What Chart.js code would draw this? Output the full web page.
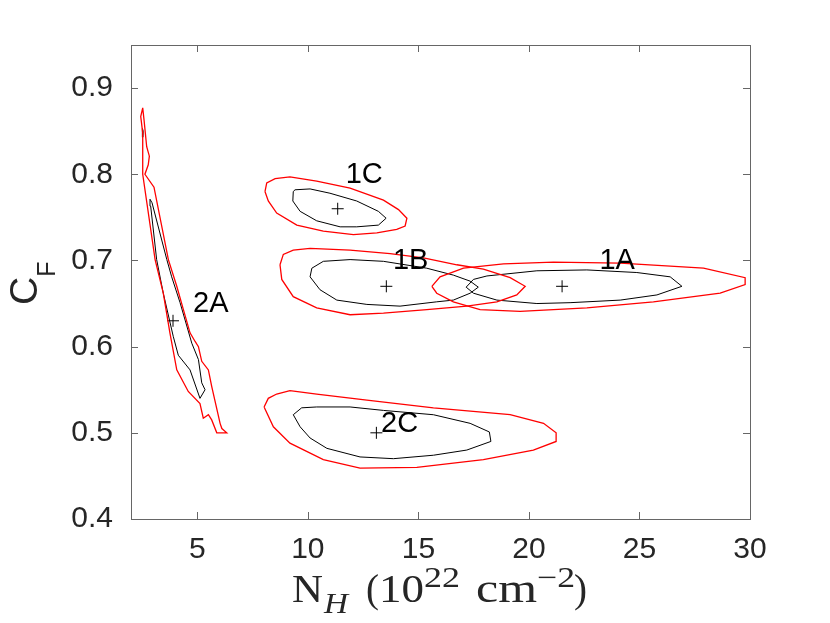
<!DOCTYPE html>
<html>
<head>
<meta charset="utf-8">
<script src="https://cdn.jsdelivr.net/npm/chart.js@4.4.1/dist/chart.umd.min.js"></script>
<style>
  html, body { margin: 0; padding: 0; background: #fff; }
  canvas { display: block; }
</style>
</head>
<body>
<canvas id="myChart" width="830" height="623"></canvas>
<script>
// axis ticks
const xTickVals = [5, 10, 15, 20, 25, 30];
const yTickVals = [0.4, 0.5, 0.6, 0.7, 0.8, 0.9];

// best fit positions (N_H, C_F)
const fitNames = ['1A', '1B', '1C', '2A', '2C'];
const fitX = [21.5, 13.55, 11.35, 3.9, 13.1];
const fitY = [0.67, 0.67, 0.76, 0.63, 0.50];

// label anchors (centre of text)
const labelX = [23.99, 14.65, 12.55, 5.61, 14.15];
const labelY = [0.700, 0.701, 0.800, 0.651, 0.511];

// outer (red) confidence contours, [N_H, C_F]
const red1A = [[15.61,0.670],[15.98,0.681],[17.04,0.691],[18.85,0.696],[21.11,0.698],[24.13,0.697],[27.90,0.691],[29.78,0.680],[29.78,0.672],[28.65,0.662],[25.63,0.652],[22.62,0.645],[19.60,0.641],[17.79,0.643],[16.58,0.652],[15.83,0.662]];
const red1B = [[8.74,0.695],[8.89,0.707],[9.34,0.712],[10.10,0.714],[11.91,0.712],[13.72,0.708],[15.23,0.703],[16.74,0.695],[17.94,0.690],[19.15,0.680],[19.83,0.670],[19.45,0.660],[18.55,0.652],[17.19,0.647],[15.38,0.643],[13.42,0.639],[11.91,0.637],[10.40,0.645],[9.34,0.658],[8.82,0.678]];
const red1C = [[8.06,0.780],[8.14,0.790],[8.52,0.795],[9.19,0.797],[10.40,0.792],[11.91,0.784],[13.42,0.770],[14.10,0.759],[14.48,0.749],[14.40,0.740],[14.02,0.736],[13.12,0.732],[12.06,0.730],[10.70,0.734],[9.50,0.741],[8.59,0.755],[8.21,0.769]];
const red2A = [[2.53,0.877],[2.59,0.863],[2.71,0.832],[2.83,0.821],[2.78,0.811],[2.63,0.800],[3.04,0.785],[3.69,0.701],[4.07,0.670],[4.37,0.643],[4.67,0.616],[4.90,0.606],[5.05,0.600],[5.20,0.583],[5.50,0.573],[5.65,0.554],[6.03,0.511],[6.11,0.505],[6.33,0.500],[5.88,0.500],[5.65,0.515],[5.50,0.521],[5.27,0.517],[5.12,0.534],[4.59,0.548],[4.07,0.573],[3.76,0.616],[3.46,0.662],[3.09,0.701],[2.53,0.800],[2.53,0.848],[2.44,0.867]];
const red2C = [[8.02,0.530],[8.21,0.540],[8.59,0.545],[9.19,0.549],[10.40,0.545],[12.67,0.538],[15.68,0.529],[19.15,0.521],[20.66,0.511],[21.23,0.500],[21.23,0.490],[20.20,0.480],[17.94,0.469],[14.93,0.460],[12.36,0.459],[10.70,0.469],[9.19,0.488],[8.44,0.507]];

// inner (black) confidence contours
const black1A = [[17.16,0.669],[17.49,0.678],[18.10,0.682],[20.36,0.688],[22.62,0.689],[24.88,0.686],[26.39,0.681],[26.92,0.670],[25.79,0.660],[24.13,0.654],[21.86,0.651],[20.36,0.650],[18.55,0.654],[17.49,0.662]];
const black1B = [[10.10,0.681],[10.18,0.691],[10.70,0.699],[11.91,0.701],[13.42,0.699],[15.38,0.691],[16.58,0.683],[17.34,0.676],[17.71,0.669],[17.34,0.662],[16.58,0.654],[15.83,0.652],[14.17,0.647],[12.67,0.649],[11.31,0.654],[10.55,0.666]];
const black1C = [[9.34,0.780],[9.42,0.782],[10.10,0.783],[11.00,0.778],[12.21,0.769],[13.19,0.757],[13.54,0.749],[13.19,0.741],[12.21,0.739],[11.46,0.739],[10.40,0.746],[9.65,0.757],[9.32,0.769]];
const black2A = [[2.86,0.771],[2.95,0.767],[3.62,0.701],[3.84,0.681],[4.22,0.651],[4.75,0.604],[5.05,0.585],[5.20,0.558],[5.35,0.550],[5.12,0.540],[4.67,0.573],[4.14,0.590],[3.91,0.612],[3.46,0.662],[3.16,0.701],[2.89,0.763]];
const black2Asmall = [[2.52,0.853],[2.55,0.850],[2.54,0.843],[2.51,0.846]];
const black2C = [[9.34,0.521],[9.72,0.529],[10.40,0.530],[11.91,0.530],[13.42,0.526],[15.68,0.521],[17.34,0.511],[18.21,0.501],[18.28,0.490],[17.19,0.480],[15.68,0.474],[13.87,0.470],[12.36,0.472],[10.86,0.482],[10.10,0.494],[9.65,0.507]];

const redContours = [red1A, red1B, red1C, red2A, red2C];
const blackContours = [black1A, black1B, black1C, black2A, black2Asmall, black2C];

function contourSet(pts, color, width) {
    const data = pts.map(p => ({ x: p[0], y: p[1] }));
    data.push({ x: pts[0][0], y: pts[0][1] }); // close the loop
    return {
        data: data,
        showLine: true,
        borderColor: color,
        borderWidth: width,
        pointRadius: 0,
        fill: false,
        tension: 0
    };
}

const datasets = [];
redContours.forEach(c => datasets.push(contourSet(c, '#ff0000', 1.3)));
blackContours.forEach(c => datasets.push(contourSet(c, '#000000', 1)));
datasets.push({
    data: fitX.map((x, i) => ({ x: x, y: fitY[i] })),
    showLine: false,
    pointStyle: 'cross',
    pointRadius: 6,
    borderColor: '#000',
    borderWidth: 1
});

// box, inward ticks, region labels and axis titles
const decorPlugin = {
    id: 'decor',
    afterDraw(chart) {
        const ctx = chart.ctx;
        const a = chart.chartArea;
        const xs = chart.scales.x, ys = chart.scales.y;
        ctx.save();
        ctx.strokeStyle = '#666';
        ctx.lineWidth = 1;
        ctx.strokeRect(Math.round(a.left) + 0.5, Math.round(a.top) + 0.5,
            Math.round(a.right - a.left), Math.round(a.bottom - a.top));
        const tl = 7;
        ctx.beginPath();
        xTickVals.forEach(v => {
            const px = Math.round(xs.getPixelForValue(v)) + 0.5;
            ctx.moveTo(px, a.bottom); ctx.lineTo(px, a.bottom - tl);
            ctx.moveTo(px, a.top); ctx.lineTo(px, a.top + tl);
        });
        yTickVals.forEach(v => {
            const py = Math.round(ys.getPixelForValue(v)) + 0.5;
            ctx.moveTo(a.left, py); ctx.lineTo(a.left + tl, py);
            ctx.moveTo(a.right, py); ctx.lineTo(a.right - tl, py);
        });
        ctx.stroke();

        // region labels
        ctx.fillStyle = '#000';
        ctx.font = '29px "Liberation Sans", Arial, sans-serif';
        ctx.textAlign = 'center';
        ctx.textBaseline = 'middle';
        fitNames.forEach((n, i) => {
            ctx.fillText(n, xs.getPixelForValue(labelX[i]), ys.getPixelForValue(labelY[i]) + 1);
        });

        // y title  C_F
        ctx.fillStyle = '#262626';
        ctx.textAlign = 'left';
        ctx.textBaseline = 'alphabetic';
        const cy = (a.top + a.bottom) / 2;
        ctx.translate(37, cy + 23);
        ctx.rotate(-Math.PI / 2);
        ctx.font = '39px "Liberation Sans", Arial, sans-serif';
        ctx.fillText('C', 0, 0);
        const cw = ctx.measureText('C').width;
        ctx.font = '25px "Liberation Sans", Arial, sans-serif';
        ctx.fillText('F', cw, 18);
        ctx.restore();

        // x title  N_H (10^22 cm^-2), pieces fitted to the reference widths
        ctx.save();
        ctx.fillStyle = '#262626';
        ctx.textAlign = 'left';
        ctx.textBaseline = 'alphabetic';
        const base = 602;
        const big = '41px "Liberation Serif", "DejaVu Serif", serif';
        const small = '29px "Liberation Serif", "DejaVu Serif", serif';
        const smallIt = 'italic 29px "Liberation Serif", "DejaVu Serif", serif';
        const pieces = [
            ['N', big, 292, 31, 0],
            ['H', smallIt, 324, 24, 11],
            ['(', big, 366, 13, 0],
            ['10', big, 379, 45, 0],
            ['22', small, 424, 36, -15],
            ['cm', big, 476, 61, 0],
            ['\u22122', small, 537, 38, -15],
            [')', big, 574, 13, 0]
        ];
        pieces.forEach(p => {
            ctx.font = p[1];
            const nw = ctx.measureText(p[0]).width;
            ctx.save();
            ctx.translate(p[2], base + p[4]);
            ctx.scale(p[3] / nw, 1);
            ctx.fillText(p[0], 0, 0);
            ctx.restore();
        });
        ctx.restore();
    }
};

const tickFont = { family: '"Liberation Sans", Arial, sans-serif', size: 30 };

new Chart(document.getElementById('myChart').getContext('2d'), {
    type: 'scatter',
    data: { datasets: datasets },
    options: {
        responsive: false,
        animation: false,
        layout: { padding: { left: 0, top: 45, right: 80, bottom: 0 } },
        plugins: { legend: { display: false }, tooltip: { enabled: false } },
        scales: {
            x: {
                type: 'linear',
                min: 2,
                max: 30,
                grid: { display: false, drawTicks: false },
                border: { display: false },
                afterBuildTicks: s => { s.ticks = xTickVals.map(v => ({ value: v })); },
                afterFit: s => { s.height = 104; },
                ticks: { font: tickFont, color: '#262626', padding: 13, maxRotation: 0,
                    callback: v => String(v) }
            },
            y: {
                type: 'linear',
                min: 0.4,
                max: 0.95,
                grid: { display: false, drawTicks: false },
                border: { display: false },
                afterBuildTicks: s => { s.ticks = yTickVals.map(v => ({ value: v })); },
                afterFit: s => { s.width = 131; },
                ticks: { font: tickFont, color: '#262626', padding: 18,
                    callback: v => Number(v).toFixed(1) }
            }
        }
    },
    plugins: [decorPlugin]
});
</script>
</body>
</html>
